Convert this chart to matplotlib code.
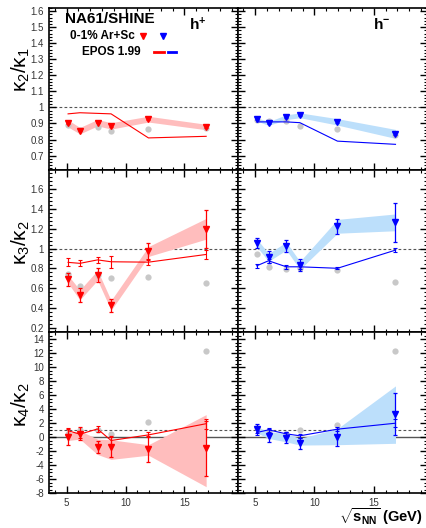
import numpy as np
import matplotlib
matplotlib.use('Agg')
import matplotlib.pyplot as plt
from matplotlib.ticker import MultipleLocator, FuncFormatter

plt.rcParams['font.family'] = ['Liberation Sans', 'DejaVu Sans']
plt.rcParams['mathtext.fontset'] = 'custom'
plt.rcParams['mathtext.rm'] = 'Liberation Sans'
plt.rcParams['mathtext.it'] = 'Liberation Sans'
plt.rcParams['mathtext.bf'] = 'Liberation Sans:bold'

# collision energies sqrt(s_NN) in GeV
x = [5.12, 6.12, 7.62, 8.77, 11.94, 16.84]

# kappa2/kappa1
k21_pos = [0.900, 0.855, 0.905, 0.885, 0.927, 0.878]
k21_pos_err = [0.004, 0.004, 0.004, 0.004, 0.004, 0.004]
k21_pos_sys = [0.022, 0.02, 0.02, 0.02, 0.018, 0.017]
k21_pos_epos = [0.960, 0.967, 0.963, 0.960, 0.810, 0.820]
k21_pos_gray = [0.890, 0.860, 0.877, 0.855, 0.866, 0.870]

k21_neg = [0.926, 0.900, 0.939, 0.951, 0.910, 0.835]
k21_neg_err = [0.004, 0.004, 0.004, 0.004, 0.004, 0.004]
k21_neg_sys = [0.010, 0.012, 0.015, 0.015, 0.02, 0.028]
k21_neg_epos = [0.910, 0.910, 0.910, 0.905, 0.790, 0.770]
k21_neg_gray = [0.920, 0.918, 0.915, 0.885, 0.866, 0.830]

# kappa3/kappa2
k32_pos = [0.69, 0.53, 0.73, 0.425, 0.97, 1.20]
k32_pos_err = [0.065, 0.075, 0.07, 0.067, 0.09, 0.19]
k32_pos_sys = [0.04, 0.05, 0.05, 0.05, 0.05, 0.105]
k32_pos_epos = [0.86, 0.85, 0.885, 0.866, 0.862, 0.94]
k32_pos_epos_err = [0.04, 0.03, 0.03, 0.06, 0.03, 0.05]
k32_pos_gray = [0.744, 0.622, 0.73, 0.703, 0.707, 0.65]

k32_neg = [1.06, 0.91, 1.025, 0.829, 1.225, 1.265]
k32_neg_err = [0.05, 0.06, 0.065, 0.06, 0.073, 0.2]
k32_neg_sys = [0.04, 0.04, 0.04, 0.04, 0.07, 0.085]
k32_neg_epos = [0.825, 0.876, 0.815, 0.815, 0.80, 0.984]
k32_neg_epos_err = [0.02, 0.02, 0.02, 0.02, 0.01, 0.02]
k32_neg_gray = [0.94, 0.812, 0.795, 0.80, 0.78, 0.663]

# kappa4/kappa2
k42_pos = [0.0, 0.5, -1.45, -1.4, -1.7, -1.6]
k42_pos_err = [1.1, 0.9, 0.85, 1.5, 1.9, 3.9]
k42_pos_sys_hi = [0.5, 0.9, -0.3, -0.4, -1.1, 3.2]
k42_pos_sys_lo = [-0.5, -0.3, -2.5, -3.2, -2.6, -7.1]
k42_pos_epos = [0.9, 0.4, 1.15, -0.5, 0.3, 1.9]
k42_pos_epos_err = [0.45, 0.5, 0.45, 0.5, 0.35, 0.7]
k42_pos_gray = [0.45, 1.0, 1.0, 0.38, 2.2, 12.3]

k42_neg = [1.2, 0.2, -0.1, -0.9, -0.05, 3.3]
k42_neg_err = [0.6, 0.9, 0.8, 0.8, 1.2, 3.05]
k42_neg_sys_hi = [1.5, 0.75, 0.5, -0.2, 1.2, 7.3]
k42_neg_sys_lo = [0.6, -0.2, -0.7, -1.15, -1.1, -0.9]
k42_neg_epos = [0.64, 1.02, 0.45, 0.17, 1.12, 1.97]
k42_neg_epos_err = [0.35, 0.3, 0.3, 0.3, 0.3, 0.6]
k42_neg_gray = [1.3, 0.8, 0.5, 0.98, 1.73, 12.33]

RED = '#ff0000'
BLUE = '#0000ff'
RED_BAND = '#ffbdbd'
BLUE_BAND = '#bcdffb'
GRAY = '#c8c8c8'


def fmt(v, pos):
	return '%g' % round(v, 3)


def DrawPanel(ax, y, err, lo, hi, epos, epos_err, gray, col, band):
	ax.fill_between(x, lo, hi, color=band, lw=0, zorder=1)
	ax.plot(x, gray, 'o', color=GRAY, ms=4.5, mec='none', zorder=2)
	ax.errorbar(x, epos, yerr=epos_err, color=col, lw=0.8, elinewidth=0.8,
				capsize=1.6, capthick=0.8, marker='', zorder=3)
	ax.errorbar(x, y, yerr=err, fmt='v', color=col, ms=5, mec=col,
				elinewidth=0.9, capsize=1.6, capthick=0.9, zorder=4)
	ax.axhline(1, color='#555555', ls=(0, (2.5, 2)), lw=0.8, zorder=0.5)


fig = plt.figure(figsize=(4.26, 5.28), dpi=100)
W, H = 426.0, 528.0
cols = [49, 237.5, 427]
rows = [8, 170, 332, 493]
ylims = [(0.61, 1.62), (0.155, 1.795), (-8, 15)]
yticks = [np.arange(0.7, 1.65, 0.1), np.arange(0.2, 1.65, 0.2), np.arange(-8, 15, 2)]
yminor = [0.02, 0.04, 0.5]
ylabels = [r'$\kappa_2/\kappa_1$', r'$\kappa_3/\kappa_2$', r'$\kappa_4/\kappa_2$']

axes = []
for r in range(3):
	row = []
	for c in range(2):
		ax = fig.add_axes([cols[c] / W, 1 - rows[r + 1] / H,
						   (cols[c + 1] - cols[c]) / W, (rows[r + 1] - rows[r]) / H])
		ax.set_xlim(3.5, 19.5)
		ax.set_ylim(*ylims[r])
		ax.set_yticks(yticks[r])
		ax.xaxis.set_major_locator(MultipleLocator(5))
		ax.xaxis.set_minor_locator(MultipleLocator(1))
		ax.yaxis.set_minor_locator(MultipleLocator(yminor[r]))
		ax.tick_params(which='both', direction='in', top=True, right=True,
					   labelsize=7, colors='black', labelcolor='#333333')
		ax.tick_params(which='major', length=5, width=1)
		ax.tick_params(which='minor', length=2.5, width=0.8)
		ax.yaxis.set_major_formatter(FuncFormatter(fmt))
		for s in ax.spines.values():
			s.set_linewidth(1.2)
		if c == 1:
			ax.set_yticklabels([])
		if r < 2:
			ax.set_xticklabels([])
		if c == 0:
			ax.set_ylabel(ylabels[r], fontsize=15)
			ax.yaxis.set_label_coords(-0.09, 0.62 if r == 0 else 0.55)
		row.append(ax)
	axes.append(row)

DrawPanel(axes[0][0], k21_pos, k21_pos_err,
		  np.array(k21_pos) - k21_pos_sys, np.array(k21_pos) + k21_pos_sys,
		  k21_pos_epos, None, k21_pos_gray, RED, RED_BAND)
DrawPanel(axes[0][1], k21_neg, k21_neg_err,
		  np.array(k21_neg) - k21_neg_sys, np.array(k21_neg) + k21_neg_sys,
		  k21_neg_epos, None, k21_neg_gray, BLUE, BLUE_BAND)
DrawPanel(axes[1][0], k32_pos, k32_pos_err,
		  np.array(k32_pos) - k32_pos_sys, np.array(k32_pos) + k32_pos_sys,
		  k32_pos_epos, k32_pos_epos_err, k32_pos_gray, RED, RED_BAND)
DrawPanel(axes[1][1], k32_neg, k32_neg_err,
		  np.array(k32_neg) - k32_neg_sys, np.array(k32_neg) + k32_neg_sys,
		  k32_neg_epos, k32_neg_epos_err, k32_neg_gray, BLUE, BLUE_BAND)
DrawPanel(axes[2][0], k42_pos, k42_pos_err, k42_pos_sys_lo, k42_pos_sys_hi,
		  k42_pos_epos, k42_pos_epos_err, k42_pos_gray, RED, RED_BAND)
DrawPanel(axes[2][1], k42_neg, k42_neg_err, k42_neg_sys_lo, k42_neg_sys_hi,
		  k42_neg_epos, k42_neg_epos_err, k42_neg_gray, BLUE, BLUE_BAND)
for c in range(2):
	axes[2][c].axhline(0, color='#555555', lw=1.0, zorder=0.6)

# legend and labels
ax = axes[0][0]
ax.text(0.085, 0.935, 'NA61/SHINE', transform=ax.transAxes, fontsize=11,
		fontweight='bold', va='center', ha='left')
ax.text(0.112, 0.828, '0-1% Ar+Sc', transform=ax.transAxes, fontsize=8.5,
		fontweight='bold', va='center', ha='left')
ax.text(0.175, 0.73, 'EPOS 1.99', transform=ax.transAxes, fontsize=8.5,
		fontweight='bold', va='center', ha='left')
ax.plot([0.497], [0.828], 'v', color=RED, ms=5, transform=ax.transAxes, clip_on=False)
ax.plot([0.603], [0.828], 'v', color=BLUE, ms=5, transform=ax.transAxes, clip_on=False)
ax.plot([0.556, 0.608], [0.73, 0.73], color=RED, lw=2, transform=ax.transAxes)
ax.plot([0.63, 0.672], [0.73, 0.73], color=BLUE, lw=2, transform=ax.transAxes)
ax.text(0.745, 0.9, r'h$^{\mathbf{+}}$', transform=ax.transAxes, fontsize=11,
		fontweight='bold', va='center', ha='left')
axes[0][1].text(0.715, 0.9, r'h$^{\mathbf{-}}$', transform=axes[0][1].transAxes,
				fontsize=11, fontweight='bold', va='center', ha='left')

fig.text(423 / W, 1 - 517 / H, r'$\sqrt{\mathbf{s}_{\mathbf{NN}}}$ (GeV)', fontsize=10.5,
		 fontweight='bold', ha='right', va='center')

plt.savefig('out.png', dpi=100)
